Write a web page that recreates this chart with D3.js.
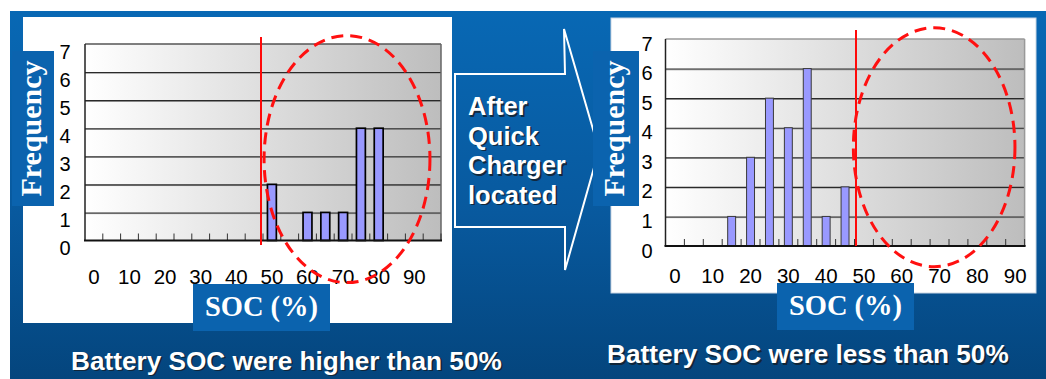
<!DOCTYPE html>
<html><head><meta charset="utf-8">
<script src="https://cdn.jsdelivr.net/npm/d3@7/dist/d3.min.js"></script>
<style>html,body{margin:0;padding:0;background:#fff;overflow:hidden}</style>
</head><body>
<svg id="c" width="1046" height="379"></svg>
<script>
// ---------------- data ----------------
const leftCategories  = ["0","5","10","15","20","25","30","35","40","45","50","55","60","65","70","75","80","85","90","95"];
const leftValues      = [0,0,0,0,0,0,0,0,0,0,2,0,1,1,1,4,4,0,0,0];
const rightCategories = ["0","5","10","15","20","25","30","35","40","45","50","55","60","65","70","75","80","85","90"];
const rightValues     = [0,0,0,1,3,5,4,6,1,2,0,0,0,0,0,0,0,0,0];
const yTickValues     = [0,1,2,3,4,5,6,7];
const xTickLabels     = ["0","10","20","30","40","50","60","70","80","90"];
const thresholdSOC    = "50";
const yAxisTitle = "Frequency";
const xAxisTitle = "SOC (%)";
const leftCaption  = "Battery SOC were higher than 50%";
const rightCaption = "Battery SOC were less than 50%";
const arrowLines   = ["After","Quick","Charger","located"];
// ellipse annotations in data units: [bin index from, bin index to, freq top, freq bottom]
const leftEllipse  = [10.06, 19.38, 7.3, -1.5];
const rightEllipse = [9.94, 18.49, 7.38, -0.7];

// ---------------- layout ----------------
const svg = d3.select("#c");
const defs = svg.append("defs");
const bg = defs.append("linearGradient").attr("id","bg").attr("x1",0).attr("y1",0).attr("x2",0).attr("y2",1);
bg.append("stop").attr("offset","0").attr("stop-color","#0868b4");
bg.append("stop").attr("offset","0.55").attr("stop-color","#08599e");
bg.append("stop").attr("offset","1").attr("stop-color","#04457d");
const pg = defs.append("linearGradient").attr("id","plotbg").attr("x1",0).attr("y1",0).attr("x2",1).attr("y2",0);
pg.append("stop").attr("offset","0").attr("stop-color","#ffffff");
pg.append("stop").attr("offset","1").attr("stop-color","#bdbdbd");

svg.append("rect").attr("x",0).attr("y",0).attr("width",1046).attr("height",379).attr("fill","#fff");
svg.append("rect").attr("x",10).attr("y",11).attr("width",1036).attr("height",368).attr("fill","url(#bg)");

const BOX = "#0b63ae";
const sans = "'Liberation Sans', Arial, sans-serif";
const narrow = "'Liberation Sans Narrow', 'Arial Narrow', 'Liberation Sans', sans-serif";
const serif = "'Liberation Serif', 'Times New Roman', serif";

function shadowText(g, x, y, txt, size){
  g.append("text").attr("x",x+1.6).attr("y",y+1.6).text(txt)
    .attr("font-family",sans).attr("font-weight","bold").attr("font-size",size)
    .attr("fill","#14202c").attr("opacity",0.85);
  g.append("text").attr("x",x).attr("y",y).text(txt)
    .attr("font-family",sans).attr("font-weight","bold").attr("font-size",size)
    .attr("fill","#ffffff");
}

// ---------------- arrow ----------------
const arrowPts = [[455,74],[565,74],[564,29],[599,150],[565,270],[565,227],[455,227]];
svg.append("path").attr("d", d3.line()(arrowPts) + "Z")
  .attr("fill","none").attr("stroke","#ffffff").attr("stroke-width",2);
const ag = svg.append("g");
arrowLines.forEach((t,i)=> shadowText(ag, 468, 115 + i*29.6, t, 25.5));

// ---------------- charts ----------------
function drawChart(cfg){
  const g = svg.append("g");
  g.append("rect").attr("x",cfg.panel[0]).attr("y",cfg.panel[1]).attr("width",cfg.panel[2]).attr("height",cfg.panel[3])
    .attr("fill","#fff").attr("stroke",cfg.panelStroke).attr("stroke-width",1);

  const x = d3.scaleBand().domain(cfg.categories).range([cfg.x0,cfg.x1]).paddingInner(0).paddingOuter(0);
  const xi = d3.scaleLinear().domain([0,cfg.categories.length]).range([cfg.x0,cfg.x1]);
  const y = d3.scaleLinear().domain([0,7]).range([cfg.y0,cfg.y1]);
  const W = cfg.x1-cfg.x0;

  g.append("rect").attr("x",cfg.x0).attr("y",y(7)).attr("width",W).attr("height",y(0)-y(7)).attr("fill","url(#plotbg)");

  const grid = yTickValues.filter(v=>v>0 && v<7);
  g.append("g").selectAll("line").data(grid).join("line")
    .attr("x1",cfg.x0).attr("x2",cfg.x1).attr("y1",d=>y(d)+1.2).attr("y2",d=>y(d)+1.2)
    .attr("stroke","#9a9a9a").attr("stroke-width",1);
  g.append("g").call(d3.axisLeft(y).tickValues(grid).tickSize(-W).tickFormat(""))
    .attr("transform",`translate(${cfg.x0},0)`)
    .call(s=>s.select(".domain").remove())
    .call(s=>s.selectAll(".tick line").attr("stroke","#2a2a2a").attr("stroke-width",1.1));

  g.append("line").attr("x1",cfg.x0).attr("x2",cfg.x1).attr("y1",y(7)).attr("y2",y(7)).attr("stroke",cfg.topStroke).attr("stroke-width",1.5);
  g.append("line").attr("x1",cfg.x1).attr("x2",cfg.x1).attr("y1",y(7)).attr("y2",y(0)).attr("stroke",cfg.rightStroke).attr("stroke-width",1.5);

  const bounds = d3.range(1, cfg.categories.length+1);
  g.append("g").selectAll("line").data(bounds).join("line")
    .attr("x1",d=>xi(d)).attr("x2",d=>xi(d)).attr("y1",y(0)-7).attr("y2",y(0))
    .attr("stroke","#333").attr("stroke-width",1);

  const bw = x.bandwidth()*cfg.barFrac;
  g.append("g").selectAll("rect").data(cfg.categories.map((c,i)=>({c,v:cfg.values[i]})).filter(d=>d.v>0)).join("rect")
    .attr("x",d=>x(d.c)+ (x.bandwidth()-bw)/2).attr("width",bw)
    .attr("y",d=>y(d.v)).attr("height",d=>y(0)-y(d.v))
    .attr("fill","#9999ff").attr("stroke",cfg.barStroke).attr("stroke-width",cfg.barStrokeW);

  g.append("line").attr("x1",cfg.x0).attr("x2",cfg.x0).attr("y1",y(7)).attr("y2",y(0)).attr("stroke","#222").attr("stroke-width",1.5);
  g.append("line").attr("x1",cfg.x0-1).attr("x2",cfg.x1+1).attr("y1",y(0)).attr("y2",y(0)).attr("stroke","#111").attr("stroke-width",1.8);

  const ya = g.append("g").attr("transform",`translate(${cfg.yLabelX},0)`)
    .call(d3.axisLeft(y).tickValues(yTickValues).tickSize(0).tickPadding(0).tickFormat(d3.format("d")));
  ya.select(".domain").remove();
  ya.selectAll("text").attr("text-anchor","middle").attr("dy",null).attr("dominant-baseline","central")
    .attr("transform",`translate(0,${cfg.yLabelDy})`)
    .attr("font-family",narrow).attr("font-size",20).attr("fill","#000");

  const xa = g.append("g").attr("transform",`translate(0,${cfg.xLabelY})`)
    .call(d3.axisBottom(x).tickSize(0).tickPadding(0).tickFormat(d=> xTickLabels.includes(d) ? d : ""));
  xa.select(".domain").remove();
  xa.selectAll("text").attr("dy",null).attr("y",0).attr("font-family",narrow).attr("font-size",20.5).attr("fill","#000");

  const tx = x(thresholdSOC) + cfg.thrDx;
  g.append("line").attr("x1",tx).attr("x2",tx).attr("y1",cfg.thrY[0]).attr("y2",cfg.thrY[1])
    .attr("stroke","#ff0a0a").attr("stroke-width",2);

  const e = cfg.ellipse;
  const ex0 = xi(e[0]), ex1 = xi(e[1]), ey0 = y(e[2]), ey1 = y(e[3]);
  g.append("ellipse").attr("cx",(ex0+ex1)/2).attr("cy",(ey0+ey1)/2).attr("rx",(ex1-ex0)/2).attr("ry",(ey1-ey0)/2)
    .attr("fill","none").attr("stroke","#ff1010").attr("stroke-width",3).attr("stroke-dasharray","12 7");

  const fb = cfg.freqBox;
  g.append("rect").attr("x",fb[0]).attr("y",fb[1]).attr("width",fb[2]).attr("height",fb[3]).attr("fill",BOX);
  g.append("text").attr("transform",`translate(${fb[0]+fb[2]/2},${fb[1]+fb[3]/2}) rotate(-90)`)
    .attr("text-anchor","middle").attr("dominant-baseline","central").attr("dy","-0.08em")
    .attr("font-family",serif).attr("font-weight","bold").attr("font-size",30).attr("fill","#fff").text(yAxisTitle);

  const sb = cfg.socBox;
  g.append("rect").attr("x",sb[0]).attr("y",sb[1]).attr("width",sb[2]).attr("height",sb[3]).attr("fill",BOX);
  g.append("text").attr("x",sb[0]+sb[2]/2).attr("y",sb[1]+32)
    .attr("text-anchor","middle").attr("font-family",serif).attr("font-weight","bold").attr("font-size",28.5)
    .attr("fill","#fff").text(xAxisTitle);

  shadowText(g, cfg.caption[0], cfg.caption[1], cfg.captionText, 26.2);
}

drawChart({
  categories:leftCategories, values:leftValues,
  panel:[23,17,429,306], panelStroke:"none",
  x0:85, x1:441, y0:240.5, y1:44,
  topStroke:"#555", rightStroke:"#666",
  barFrac:0.5, barStroke:"#000", barStrokeW:1.7,
  yLabelX:65, yLabelDy:7, xLabelY:284,
  thrDx:-2, thrY:[37,245],
  ellipse:leftEllipse,
  freqBox:[12,51,42,155], socBox:[193,284,137,47],
  caption:[71,369.5], captionText:leftCaption
});
drawChart({
  categories:rightCategories, values:rightValues,
  panel:[611,18,425,275], panelStroke:"#c9d6e3",
  x0:665.5, x1:1024.6, y0:246, y1:39,
  topStroke:"#999", rightStroke:"#999",
  barFrac:0.42, barStroke:"#3a3a3a", barStrokeW:1,
  yLabelX:647, yLabelDy:4, xLabelY:283,
  thrDx:1.5, thrY:[30,246],
  ellipse:rightEllipse,
  freqBox:[593,51,46,155], socBox:[777,283,137,47],
  caption:[607,363], captionText:rightCaption
});
</script>
</body></html>
